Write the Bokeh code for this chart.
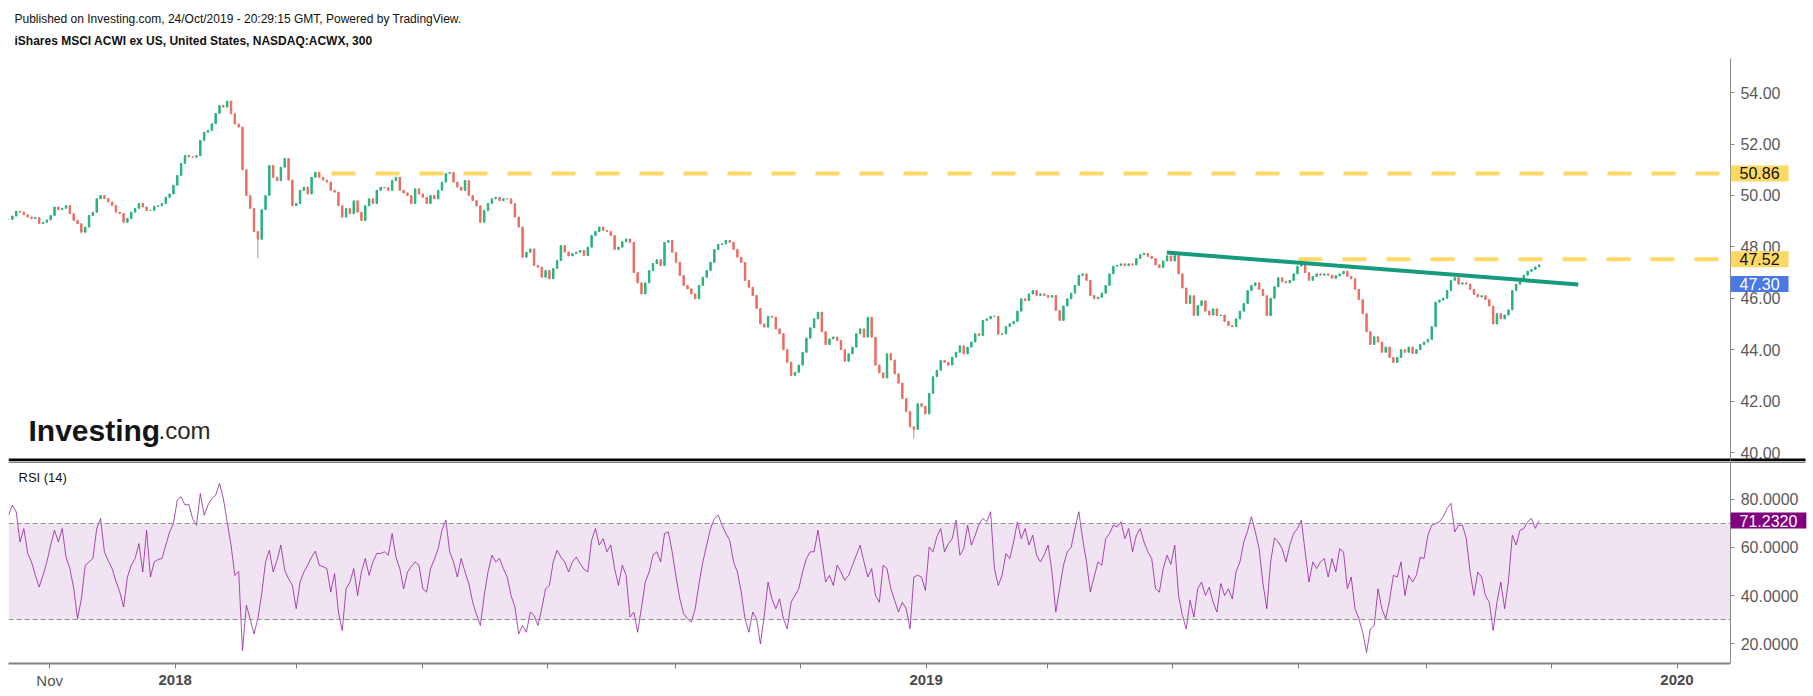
import numpy as np
import pandas as pd
from bokeh.plotting import figure
from bokeh.models import (ColumnDataSource, FixedTicker, Label, Span, BoxAnnotation, Range1d,
                          NumeralTickFormatter, LinearAxis)
from bokeh.layouts import column, row
from bokeh.embed import file_html
from bokeh.resources import INLINE

# ---------------- data ----------------
bar_first = "2017-10-12"
bar_last = "2019-10-26"
view_start = "2017-10-12"
view_end = "2020-01-27"

closes = [
    49.07, 49.2, 49.39, 49.35, 49.25, 49.16, 49.1, 49.14, 48.91, 48.96, 49.05, 49.22, 49.55, 49.45, 49.5, 49.61, 49.29, 49.03, 48.9, 48.57,
    48.77, 49.22, 49.35, 49.87, 50.0, 49.88, 49.75, 49.61, 49.35, 49.3, 48.96, 49.1, 49.35, 49.5, 49.69, 49.55, 49.42, 49.42, 49.58, 49.6,
    49.69, 49.93, 50.06, 50.4, 50.78, 51.25, 51.56, 51.5, 51.49, 51.55, 52.14, 52.46, 52.53, 52.79, 53.19, 53.5, 53.44, 53.67, 53.18, 52.78,
    52.66, 51.0, 50.0, 49.5, 48.6, 48.3, 49.45, 50.0, 51.17, 50.71, 50.58, 51.1, 51.44, 50.6, 49.6, 49.69, 50.2, 50.32, 50.06, 50.71,
    50.9, 50.71, 50.6, 50.52, 50.2, 50.13, 49.6, 49.16, 49.49, 49.29, 49.79, 49.35, 49.03, 49.6, 49.87, 49.69, 50.2, 50.32, 50.3, 50.2,
    50.58, 50.71, 50.2, 50.1, 50.0, 49.69, 50.26, 50.06, 49.93, 49.69, 50.0, 49.87, 50.2, 50.52, 50.86, 50.9, 50.52, 50.33, 50.2, 50.58,
    50.0, 49.8, 49.6, 48.96, 49.42, 49.69, 49.87, 49.93, 49.8, 49.87, 49.87, 49.69, 49.16, 48.77, 47.6, 47.79, 47.92, 47.28, 47.21, 46.82,
    47.08, 46.76, 47.16, 47.47, 48.05, 47.8, 47.65, 47.74, 47.79, 47.86, 47.66, 47.99, 48.44, 48.6, 48.77, 48.64, 48.6, 48.44, 47.9, 47.99,
    48.2, 48.31, 48.18, 47.0, 46.6, 46.17, 46.6, 47.08, 47.35, 47.5, 47.27, 48.18, 48.25, 47.79, 47.4, 46.89, 46.5, 46.37, 46.17, 45.98,
    46.5, 46.82, 47.08, 47.4, 47.9, 48.1, 48.12, 48.25, 48.18, 47.9, 47.6, 47.4, 46.69, 46.43, 46.11, 45.6, 45.0, 44.88, 45.3, 45.26,
    44.81, 44.62, 44.0, 43.51, 43.0, 43.12, 43.4, 43.9, 44.45, 44.85, 45.2, 45.46, 44.7, 44.2, 44.42, 44.49, 44.36, 44.0, 43.55, 43.84,
    44.1, 44.62, 44.81, 44.49, 45.26, 44.49, 43.4, 43.1, 42.9, 43.84, 43.6, 43.06, 42.7, 42.1, 41.6, 41.0, 40.9, 41.9, 41.8, 41.5,
    42.3, 42.95, 43.2, 43.58, 43.51, 43.4, 43.71, 43.9, 44.15, 43.84, 44.1, 44.3, 44.62, 44.55, 45.14, 45.2, 45.3, 45.3, 44.6, 44.62,
    44.9, 45.01, 45.1, 45.5, 45.98, 45.91, 46.17, 46.3, 46.11, 46.17, 46.11, 46.04, 46.11, 45.53, 45.14, 45.7, 45.98, 46.2, 46.5, 46.89,
    46.95, 46.7, 46.11, 45.98, 46.04, 46.2, 46.5, 46.95, 47.25, 47.28, 47.34, 47.27, 47.34, 47.3, 47.55, 47.7, 47.75, 47.63, 47.55, 47.3,
    47.2, 47.45, 47.65, 47.45, 47.66, 46.95, 46.4, 45.8, 46.1, 45.33, 45.72, 45.9, 45.5, 45.35, 45.59, 45.33, 45.35, 45.1, 44.94, 44.9,
    45.2, 45.5, 45.8, 46.3, 46.5, 46.6, 46.35, 46.1, 45.33, 46.0, 46.45, 46.8, 46.65, 46.6, 46.7, 46.95, 47.25, 47.3, 47.0, 46.7,
    46.85, 46.95, 46.9, 46.95, 46.9, 46.78, 46.88, 46.95, 47.05, 46.85, 46.76, 46.35, 45.95, 45.4, 44.7, 44.2, 44.5, 44.3, 43.9, 44.1,
    43.7, 43.5, 43.7, 44.0, 43.9, 44.1, 43.85, 44.0, 44.2, 44.3, 44.4, 44.9, 45.85, 45.93, 46.0, 46.3, 46.7, 46.8, 46.55, 46.6,
    46.55, 46.35, 46.15, 46.05, 46.1, 45.95, 45.7, 45.0, 45.4, 45.2, 45.35, 45.55, 46.3, 46.55, 46.7, 46.9, 47.05, 47.12, 47.22, 47.3,
]

wick_low_bars = [65, 236]
wick_low_values = [47.55, 40.54]

rsi = [
    73.5, 77.7, 74.9, 62.3, 67.9, 57.5, 54, 48.4, 43.5, 48.4, 54, 61, 67.2, 62.3, 67.9, 56, 51.2, 43, 30.3, 38.6,
    52.6, 54, 55.4, 67.9, 72.1, 58.2, 54.5, 51.2, 46, 41.5, 35.2, 47.7, 52.6, 55.4, 61.6, 49.8, 67.2, 47.7, 54, 55,
    55.4, 61, 66.5, 70, 79.8, 81.1, 77.7, 78, 72, 69.3, 82.5, 73.5, 77.7, 80.4, 81.8, 86.7, 80.4, 70.7, 61, 48.4,
    50, 17, 35.9, 30.3, 24, 30.3, 40.7, 54, 58.8, 49.8, 54.7, 61, 50.5, 47, 44.2, 34.5, 45.6, 49.8, 52.6, 56,
    58.5, 52.6, 52, 51.2, 41.4, 49.1, 33.1, 25.4, 42.8, 45.6, 51.2, 40, 49.8, 55.4, 48.4, 54, 57.5, 57.5, 58.2, 56.8,
    65.8, 56, 51.2, 42.8, 49.8, 52, 54, 52.6, 42.8, 41.4, 51.2, 55, 59.5, 67.2, 71.4, 58.2, 54, 47.7, 55.4, 49.8,
    44.9, 37.2, 32, 27.5, 40, 49.8, 56.8, 54, 55.4, 51.2, 47.7, 40, 35.2, 24, 27.5, 24.7, 33.1, 31.7, 27.5, 34.5,
    42.8, 44.2, 54, 58.8, 56, 54, 49.8, 54, 56, 53.3, 51, 49.8, 63, 67.9, 61, 63.7, 58.2, 61, 51.2, 44.2,
    52.6, 48.4, 31, 33.1, 24.7, 35, 45.6, 49.8, 56.8, 58.2, 54, 65.8, 66.5, 58.2, 47.7, 38.6, 32.4, 30.3, 28.9, 34.5,
    45, 54, 61, 67.9, 72.1, 73.5, 69.3, 65.8, 63, 54, 49.8, 41.4, 30.3, 24.7, 33.1, 30.3, 19.8, 31.7, 45.6, 38.6,
    34.5, 38.6, 30.3, 26.1, 37.2, 40, 42.8, 49.8, 55.4, 58.2, 58.2, 67.2, 56.8, 45.6, 48.4, 44.2, 52.6, 49.8, 46.3, 48.4,
    52.6, 56.8, 61, 54, 47.7, 51.2, 40, 37.2, 52.6, 51.2, 42.8, 37.9, 33.1, 37.2, 34.5, 26.1, 47.7, 48.4, 47.7, 42.1,
    60.2, 58.2, 64.5, 67.9, 58.2, 61.6, 63.7, 71.4, 56.8, 59.5, 69.3, 61, 65.1, 70, 72.1, 70.7, 74.9, 51.2, 44.2, 48.4,
    57.5, 55.4, 62.3, 70.7, 63.7, 67.9, 61, 65.1, 56.8, 54, 57, 61, 49.8, 33.1, 42.8, 52.6, 58.2, 60, 67.9, 74.9,
    63.5, 54, 41.4, 47.7, 54, 52.6, 63.7, 65.8, 69.3, 68.6, 70.7, 63.7, 67.9, 58.2, 65.1, 67.9, 62.3, 58.2, 55.4, 42.8,
    41.4, 51.2, 56.8, 53, 61, 40, 31.7, 26.1, 38, 31, 42.8, 45.6, 40, 43.5, 37.2, 33.1, 45, 40, 42.8, 38.6,
    50, 54, 62.3, 67, 72.8, 66.5, 59.5, 45, 34.5, 54, 64, 62.3, 59.5, 54, 61, 65.8, 67.9, 71.4, 58.2, 45.6,
    54, 51.2, 54, 55.4, 47.7, 55.4, 49.8, 59.5, 58.2, 42.8, 47.7, 34.5, 30.3, 24.7, 16.3, 26.1, 27.5, 42.8, 34.5, 30.3,
    38, 48.4, 47.7, 54, 40, 48.4, 45.6, 48.4, 56, 55.4, 65.1, 69.3, 70, 70.7, 72.8, 76.3, 78.4, 66.5, 69.3, 69.3,
    63.7, 49.8, 40, 49.8, 47.7, 40, 37.2, 25.4, 37.2, 45.6, 34.5, 46, 65.1, 61, 67.2, 67.9, 70.7, 72.1, 68, 71.232,
]

resistance_levels = [50.86, 47.52]
resistance_start_dates = ["2018-03-18", "2019-07-01"]
trend_dates = ["2019-04-28", "2019-11-14"]
trend_values = [47.78, 46.54]
last_price = 47.30
last_rsi = 71.2320
rsi_upper = 70
rsi_lower = 30

price_ticks = [40, 42, 44, 46, 48, 50, 52, 54]
rsi_ticks = [20, 40, 60, 80]
x_tick_dates = ["2017-11-01", "2018-01-01", "2018-03-01", "2018-05-01", "2018-07-01", "2018-09-01", "2018-11-01",
                "2019-01-01", "2019-03-01", "2019-05-01", "2019-07-01", "2019-09-01", "2019-11-01", "2020-01-01"]
month_label_dates = ["2017-11-01"]
month_labels = ["Nov"]
year_label_dates = ["2018-01-01", "2019-01-01", "2020-01-01"]
year_labels = ["2018", "2019", "2020"]

header_line1 = "Published on Investing.com, 24/Oct/2019 - 20:29:15 GMT, Powered by TradingView."
header_line2 = "iShares MSCI ACWI ex US, United States, NASDAQ:ACWX, 300"

# ---------------- helpers / style ----------------
ORIGIN = pd.Timestamp("2018-01-01")


def day(s):
    return float((pd.Timestamp(s) - ORIGIN) / pd.Timedelta(days=1))


FONT = "Liberation Sans"
UP = "#26b47c"
DOWN = "#ec6e63"
WICK = "#9a9a9a"
GOLD = "#fdd865"
TEAL = "#179b7d"
PURPLE = "#8e1599"
AXIS = "#8a8a8a"
LABEL = "#5a5a5a"

PRICE_LO, PRICE_HI = 39.65, 55.33
RSI_LO, RSI_HI = 11.67, 95.83
X0, X1 = day(view_start), day(view_end)
FRAME_L, FRAME_W, PRICE_TOP, PRICE_H = 8, 1722, 58, 403


def px_x(px):
    return X0 + (px - FRAME_L) * (X1 - X0) / FRAME_W


def px_y(py):
    return PRICE_HI - (py - PRICE_TOP) * (PRICE_HI - PRICE_LO) / PRICE_H


n = len(closes)
bar_x = np.linspace(day(bar_first), day(bar_last), n)
opens = [closes[0]] + closes[:-1]
tops = [max(o, c) for o, c in zip(opens, closes)]
bots = [min(o, c) for o, c in zip(opens, closes)]
lows = list(bots)
for b, v in zip(wick_low_bars, wick_low_values):
    lows[b] = v
colors = [UP if c >= o else DOWN for o, c in zip(opens, closes)]
src = ColumnDataSource(dict(x=bar_x, top=tops, bottom=bots, low=lows, high=tops, color=colors))

xr = Range1d(X0, X1)
yr_price = Range1d(PRICE_LO, PRICE_HI)
yr_rsi = Range1d(RSI_LO, RSI_HI)


def style_side_axis(ax, ticks, fmt, standoff):
    ax.ticker = FixedTicker(ticks=ticks)
    ax.formatter = NumeralTickFormatter(format=fmt)
    ax.major_label_text_font = FONT
    ax.major_label_text_font_size = "16px"
    ax.major_label_text_color = LABEL
    ax.axis_line_color = AXIS
    ax.major_tick_line_color = AXIS
    ax.major_tick_in = 4
    ax.major_tick_out = 0
    ax.minor_tick_line_color = None
    ax.major_label_standoff = standoff


def value_box(x_fig, y, text, bg, fg, y_offset=0):
    x_fig.add_layout(Label(x=0, y=y, y_offset=y_offset, x_units="screen", y_units="data", text=text,
                           text_font=FONT, text_font_size="16px", text_color=fg,
                           background_fill_color=bg, text_baseline="middle", text_align="left",
                           padding=(9, 2)))


# ---------------- price pane ----------------
p1 = figure(width=1730, height=461, x_range=xr, y_range=yr_price,
            x_axis_location=None, y_axis_location=None,
            output_backend="svg", toolbar_location=None,
            min_border_left=FRAME_L, min_border_right=0, min_border_top=PRICE_TOP, min_border_bottom=0)
p1.grid.visible = False
p1.outline_line_color = None

p1.segment(x0="x", y0="low", x1="x", y1="high", source=src, line_color=WICK, line_width=1)
p1.vbar(x="x", top="top", bottom="bottom", width=0.7, source=src, fill_color="color", line_color="color", line_width=1)

for lvl, sd in zip(resistance_levels, resistance_start_dates):
    p1.ray(x=[day(sd)], y=[lvl], length=0, angle=0, line_color=GOLD, line_width=4, line_dash="24 20")

p1.line(x=[day(d) for d in trend_dates], y=trend_values, line_color=TEAL, line_width=4)

p1.add_layout(Label(x=px_x(14), y=px_y(18), text=header_line1,
                    text_font=FONT, text_font_size="12px", text_color="#111111", text_baseline="middle"), "above")
p1.add_layout(Label(x=px_x(14), y=px_y(40), text=header_line2,
                    text_font=FONT, text_font_size="12px", text_font_style="bold", text_color="#111111",
                    text_baseline="middle"), "above")
p1.add_layout(Label(x=20, y=31, x_units="screen", y_units="screen", text="Investing",
                    text_font=FONT, text_font_size="30px", text_font_style="bold", text_color="#151515",
                    text_baseline="alphabetic"))
p1.add_layout(Label(x=150, y=31, x_units="screen", y_units="screen", text=".com",
                    text_font=FONT, text_font_size="24px", text_color="#2a2a2a", text_baseline="alphabetic"))
p1.add_layout(BoxAnnotation(left=0, right=FRAME_W, bottom=0, top=3, left_units="screen", right_units="screen",
                            bottom_units="screen", top_units="screen", fill_color="black", fill_alpha=1,
                            line_color=None))

# price scale (right side)
p1s = figure(width=83, height=461, x_range=Range1d(0, 1), y_range=yr_price,
             x_axis_location=None, y_axis_location="left",
             output_backend="svg", toolbar_location=None,
             min_border_left=0, min_border_right=0, min_border_top=PRICE_TOP, min_border_bottom=0)
p1s.grid.visible = False
p1s.outline_line_color = None
style_side_axis(p1s.yaxis[0], price_ticks, "0.00", -50)
for lvl in resistance_levels:
    value_box(p1s, lvl, f"{lvl:.2f}", GOLD, "#111111")
value_box(p1s, last_price, f"{last_price:.2f}", "#4a78e4", "white", y_offset=-19)
p1s.add_layout(BoxAnnotation(left=0, right=75, bottom=0, top=3, left_units="screen", right_units="screen",
                             bottom_units="screen", top_units="screen", fill_color="black", fill_alpha=1,
                             line_color=None))

# ---------------- RSI pane ----------------
p2 = figure(width=1730, height=235, x_range=xr, y_range=yr_rsi, y_axis_location=None,
            output_backend="svg", toolbar_location=None,
            min_border_left=FRAME_L, min_border_right=0, min_border_top=0, min_border_bottom=33)
p2.grid.visible = False
p2.outline_line_color = None

p2.add_layout(BoxAnnotation(bottom=rsi_lower, top=rsi_upper, fill_color="#f1e4f2", fill_alpha=1,
                            line_color=None, level="underlay"))
for lvl in (rsi_upper, rsi_lower):
    p2.add_layout(Span(location=lvl, dimension="width", line_color="#8f8f8f", line_width=1, line_dash="5 3"))

rsi_x = np.linspace(day(bar_first), day(bar_last), len(rsi))
p2.line(x=rsi_x, y=rsi, line_color=PURPLE, line_width=1, line_alpha=0.75)

# time axis: ticks + month labels (regular weight)
xa = p2.xaxis[0]
tick_vals = [day(d) for d in x_tick_dates]
month_map = {day(d): lab for d, lab in zip(month_label_dates, month_labels)}
xa.ticker = FixedTicker(ticks=tick_vals)
xa.major_label_overrides = {t: month_map.get(t, " ") for t in tick_vals}
xa.major_label_text_font = FONT
xa.major_label_text_font_size = "15px"
xa.major_label_text_color = "#555555"
xa.axis_line_color = "#808080"
xa.axis_line_width = 2
xa.major_tick_line_color = "#808080"
xa.major_tick_out = 5
xa.major_tick_in = 0
xa.minor_tick_line_color = None
xa.major_label_standoff = 3

# year labels (bold) on a second, zero-height axis that overlays the first one
year_vals = [day(d) for d in year_label_dates]
xb = LinearAxis(ticker=FixedTicker(ticks=year_vals),
                major_label_overrides={t: lab for t, lab in zip(year_vals, year_labels)},
                major_label_text_font=FONT, major_label_text_font_size="15px",
                major_label_text_font_style="bold", major_label_text_color="#4a4a4a",
                axis_line_color=None, major_tick_line_color=None, minor_tick_line_color=None,
                major_tick_out=0, major_tick_in=0, major_label_standoff=-17)
p2.add_layout(xb, "below")

p2.add_layout(Label(x=10, y=186, x_units="screen", y_units="screen", text="RSI (14)",
                    text_font=FONT, text_font_size="13px", text_color="#111111", text_baseline="middle"))
p2.add_layout(BoxAnnotation(left=0, right=FRAME_W, bottom=201, top=202, left_units="screen", right_units="screen",
                            bottom_units="screen", top_units="screen", fill_color="black", fill_alpha=1,
                            line_color=None))

p2s = figure(width=83, height=235, x_range=Range1d(0, 1), y_range=yr_rsi,
             x_axis_location=None, y_axis_location="left",
             output_backend="svg", toolbar_location=None,
             min_border_left=0, min_border_right=0, min_border_top=0, min_border_bottom=33)
p2s.grid.visible = False
p2s.outline_line_color = None
style_side_axis(p2s.yaxis[0], rsi_ticks, "0.0000", -68)
value_box(p2s, last_rsi, f"{last_rsi:.4f}", "#800080", "white")
p2s.add_layout(BoxAnnotation(left=0, right=75, bottom=201, top=202, left_units="screen", right_units="screen",
                             bottom_units="screen", top_units="screen", fill_color="black", fill_alpha=1,
                             line_color=None))

layout = column(row(p1, p1s), row(p2, p2s))
open("out.html", "w").write(file_html(layout, INLINE))
